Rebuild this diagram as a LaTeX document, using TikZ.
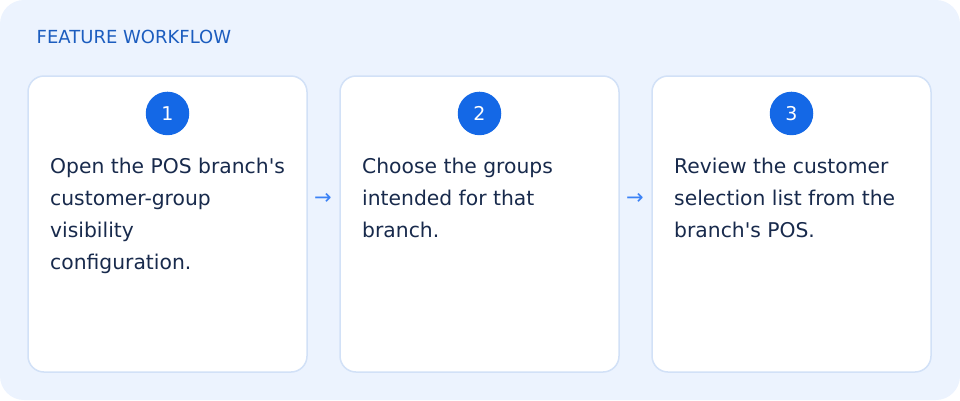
\documentclass[tikz,border=0pt]{standalone}
\usepackage{fontspec}
\setmainfont{DejaVu Sans}
\usetikzlibrary{positioning}
\definecolor{panelbg}{RGB}{236,243,254}
\definecolor{cardline}{RGB}{210,225,247}
\definecolor{titleblue}{RGB}{28,93,191}
\definecolor{stepblue}{RGB}{20,104,230}
\definecolor{arrowblue}{RGB}{59,130,246}
\definecolor{textnavy}{RGB}{24,42,76}

\begin{document}
\begin{tikzpicture}[x=1pt, y=-1pt,
    card/.style={draw=cardline, line width=1.5pt, fill=white, rounded corners=16pt,
        minimum width=279pt, minimum height=296pt, inner sep=0pt, outer sep=0pt},
    stepnum/.style={circle, fill=stepblue, minimum size=43.5pt, inner sep=0pt,
        text=white, font=\fontsize{19}{19}\selectfont},
    steptext/.style={anchor=base west, align=left, inner sep=0pt, text=textnavy,
        font=\fontsize{20.3}{32}\selectfont},
    flowarrow/.style={text=arrowblue, inner sep=0pt, font=\fontsize{21}{21}\selectfont}]
    \useasboundingbox (0,0) rectangle (960,400);
    \fill[panelbg, rounded corners=24pt] (0,0) rectangle (960,400);

    \node[anchor=base west, inner sep=0pt, text=titleblue, font=\fontsize{18}{18}\selectfont]
        (title) at (36.5,43.5) {FEATURE WORKFLOW};

    % Three step cards
    \node[card, anchor=north west] (card1) at (28,76) {};
    \node[card, right=33pt of card1] (card2) {};
    \node[card, right=33pt of card2] (card3) {};

    \node[stepnum, below=15.5pt of card1.north] (num1) {1};
    \node[stepnum, below=15.5pt of card2.north] (num2) {2};
    \node[stepnum, below=15.5pt of card3.north] (num3) {3};

    % base anchor sits on the last line
    \node[steptext] (txt1) at (50,269) {Open the POS branch\textquotesingle s\\customer-group\\visibility\\configuration.};
    \node[steptext] (txt2) at (362,237) {Choose the groups\\intended for that\\branch.};
    \node[steptext] (txt3) at (674,237) {Review the customer\\selection list from the\\branch\textquotesingle s POS.};

    % Arrows between cards
    \node[flowarrow] (arr1) at (323,199) {→};
    \node[flowarrow] (arr2) at (635,199) {→};
\end{tikzpicture}
\end{document}
